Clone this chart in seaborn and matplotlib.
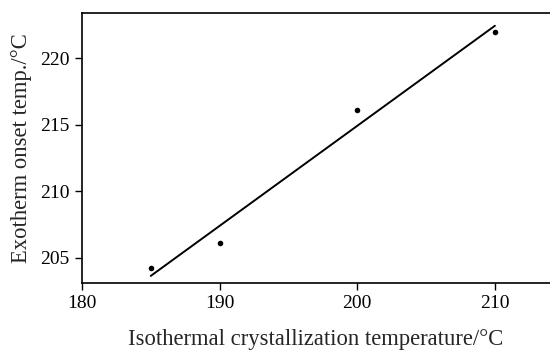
import matplotlib
matplotlib.use("Agg")
import matplotlib.pyplot as plt
import seaborn as sns
import pandas as pd

iso_temp = [185, 190, 200, 210]
onset_temp = [204.2, 206.1, 216.1, 222.0]
x_ticks = [180, 190, 200, 210]
y_ticks = [205, 210, 215, 220]

sns.set_style("ticks")
plt.rcParams['font.family'] = ['Liberation Serif', 'DejaVu Serif']

df = pd.DataFrame({"x": iso_temp, "y": onset_temp})

fig = plt.figure(figsize=(5.5, 3.54), dpi=100)
ax = fig.add_axes([0.149, 0.2006, 0.851, 0.7624])

sns.regplot(data=df, x="x", y="y", ax=ax, ci=None, truncate=True,
            scatter_kws=dict(marker="D", s=16, color="black", linewidths=0, alpha=1),
            line_kws=dict(color="black", lw=1.4))

ax.set_xlim(180, 214)
ax.set_ylim(203.1, 223.4)
ax.set_xticks(x_ticks)
ax.set_yticks(y_ticks)
ax.tick_params(direction="out", length=5, width=1, labelsize=14, colors="black", pad=4)
for side in ["left", "bottom", "top"]:
    ax.spines[side].set_linewidth(1.2)
    ax.spines[side].set_color("black")
ax.spines["right"].set_visible(False)
ax.set_xlabel("Isothermal crystallization temperature/°C", fontsize=16.3, labelpad=12)
ax.set_ylabel("Exotherm onset temp./°C", fontsize=16.3, labelpad=6)

fig.savefig("out.png", dpi=100)
